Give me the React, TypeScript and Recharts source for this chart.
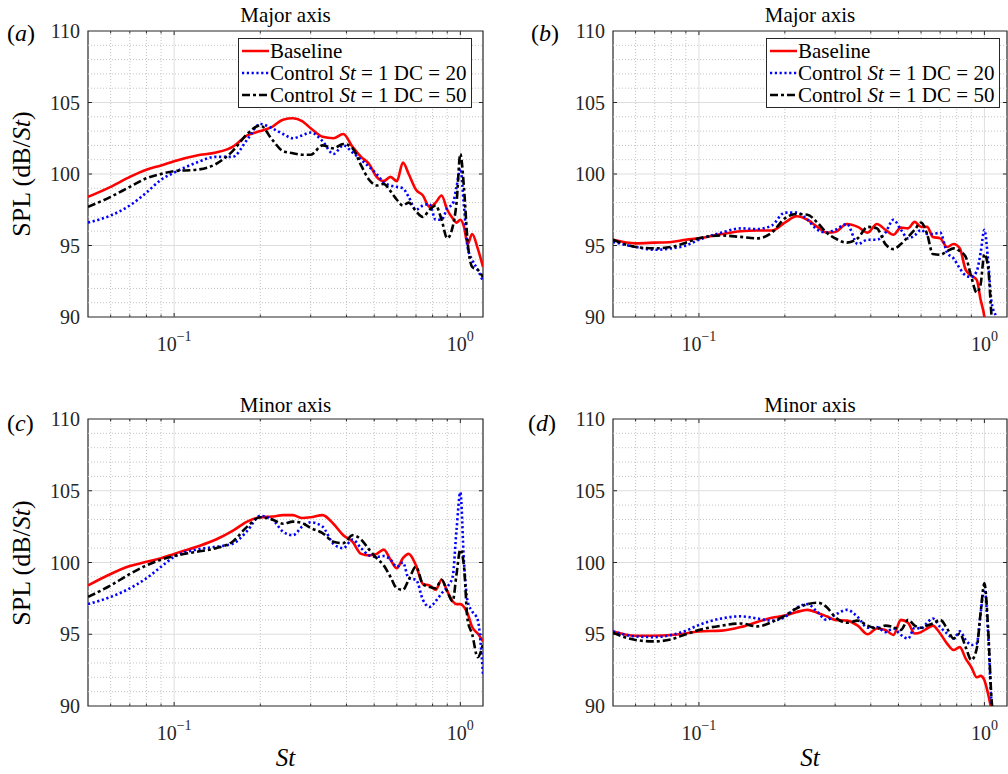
import React from 'react';
import { LineChart, Line, XAxis, YAxis, ReferenceLine, ReferenceArea, Legend } from 'recharts';

const SERIF = '"Liberation Serif", "Times New Roman", serif';

// Strouhal numbers shared by every curve
const ST = [0.05, 0.06, 0.07, 0.08, 0.09, 0.10, 0.12, 0.14, 0.16, 0.18, 0.20, 0.22, 0.24, 0.26, 0.28, 0.30, 0.33, 0.36, 0.39, 0.42, 0.45, 0.48, 0.51, 0.54, 0.57, 0.60, 0.63, 0.66, 0.70, 0.74, 0.78, 0.82, 0.86, 0.90, 0.94, 0.97, 1.00, 1.03, 1.06, 1.10, 1.15, 1.20];

// (a) major axis
const baseA = [98.4, 99.1, 99.8, 100.3, 100.6, 100.9, 101.3, 101.5, 101.9, 102.7, 103.0, 103.3, 103.8, 103.9, 103.7, 103.2, 102.6, 102.5, 102.8, 101.9, 101.2, 100.7, 99.8, 99.5, 99.8, 99.5, 100.8, 100.0, 98.9, 98.5, 97.7, 98.0, 98.5, 97.5, 96.9, 96.6, 96.8, 96.3, 95.1, 95.8, 94.8, 93.5];
const dc20A = [96.6, 97.1, 97.8, 98.7, 99.6, 100.1, 100.8, 101.2, 101.2, 102.4, 103.5, 103.2, 102.8, 102.5, 102.7, 102.9, 102.3, 101.4, 102.0, 101.5, 101.0, 100.5, 100.0, 99.4, 99.2, 99.1, 99.0, 98.4, 97.5, 97.8, 97.9, 96.8, 96.8, 97.6, 97.9, 99.1, 100.4, 97.7, 94.9, 94.0, 93.3, 92.5];
const dc50A = [97.7, 98.4, 99.1, 99.7, 100.0, 100.2, 100.3, 100.7, 101.6, 102.8, 103.4, 102.4, 101.6, 101.45, 101.35, 101.35, 102.0, 101.8, 102.1, 101.8, 100.6, 99.6, 99.2, 99.3, 98.8, 98.2, 97.8, 98.0, 97.4, 97.0, 97.5, 97.8, 96.8, 95.5, 96.3, 98.0, 101.4, 99.0, 95.3, 93.5, 93.3, 92.8];

// (b) major axis
const baseB = [95.4, 95.15, 95.2, 95.25, 95.4, 95.5, 95.8, 96.0, 96.05, 96.05, 96.6, 97.05, 96.8, 96.3, 95.9, 95.95, 96.5, 96.3, 95.9, 96.5, 96.1, 95.75, 96.25, 96.2, 96.65, 96.3, 96.3, 95.6, 95.5, 94.9, 95.1, 94.8, 93.3, 92.9, 92.6, 91.2, 90.0, 87.5, 85.5, 84.0, 83.0, 82.0];
const dc20B = [95.25, 94.9, 94.7, 94.8, 95.0, 95.4, 95.9, 96.2, 96.15, 96.4, 97.3, 97.3, 96.8, 96.1, 95.9, 96.1, 96.5, 95.1, 95.4, 95.4, 95.9, 96.8, 96.1, 95.5, 95.7, 96.1, 95.8, 95.8, 95.9, 94.5, 94.1, 93.4, 92.9, 92.8, 93.2, 94.5, 96.1, 94.0, 91.0, 90.0, 88.5, 87.5];
const dc50B = [95.4, 94.9, 94.8, 94.9, 95.2, 95.5, 95.7, 95.6, 95.5, 95.9, 96.9, 97.2, 97.15, 96.6, 95.9, 95.5, 95.2, 95.5, 96.3, 96.2, 95.1, 94.75, 95.1, 95.6, 96.1, 96.6, 95.8, 94.4, 94.35, 94.6, 94.8, 94.6, 94.2, 92.8, 91.7, 92.3, 94.4, 93.5, 90.0, 87.5, 86.5, 86.0];

// (c) minor axis
const baseC = [98.4, 99.2, 99.75, 100.05, 100.3, 100.6, 101.1, 101.6, 102.2, 102.85, 103.15, 103.2, 103.3, 103.3, 103.1, 103.15, 103.3, 102.7, 101.9, 101.45, 100.6, 100.5, 100.6, 100.9, 100.2, 99.6, 100.3, 100.6, 99.8, 98.5, 98.4, 98.1, 98.8, 98.0, 97.3, 97.1, 97.1, 96.9, 96.45, 95.5, 95.05, 94.5];
const dc20C = [97.1, 97.6, 98.2, 98.9, 99.7, 100.4, 100.9, 101.1, 101.3, 102.2, 103.25, 103.0, 102.15, 101.9, 102.5, 102.8, 102.5, 101.3, 101.0, 101.6, 101.0, 100.5, 100.4, 100.45, 100.2, 99.7, 100.0, 98.9, 98.8, 97.4, 96.9, 97.3, 97.85, 98.3, 99.0, 102.3, 104.9, 100.0, 97.3, 96.6, 96.0, 92.2];
const dc50C = [97.6, 98.4, 99.2, 99.8, 100.2, 100.45, 100.75, 101.0, 101.45, 102.5, 103.15, 103.0, 102.7, 102.85, 102.75, 102.4, 102.05, 101.45, 101.35, 101.9, 101.6, 100.9, 100.3, 99.8, 99.0, 98.2, 98.1, 98.8, 99.7, 98.5, 98.3, 98.2, 98.8, 98.0, 97.3, 99.2, 100.9, 99.7, 96.0, 95.0, 93.4, 94.3];

// (d) minor axis
const baseD = [95.2, 94.9, 94.9, 94.95, 95.05, 95.2, 95.25, 95.5, 95.85, 96.15, 96.3, 96.55, 96.7, 96.5, 96.25, 96.0, 95.95, 95.6, 95.0, 95.4, 95.3, 94.95, 96.0, 95.8, 95.05, 95.15, 95.4, 95.6, 95.05, 94.35, 93.9, 94.1, 93.3, 92.7, 92.0, 92.1, 91.8, 90.85, 89.7, 88.5, 87.5, 86.5];
const dc20D = [95.2, 94.85, 94.8, 94.95, 95.25, 95.65, 96.1, 96.25, 96.1, 95.95, 96.2, 96.85, 97.1, 96.55, 96.0, 96.35, 96.7, 96.2, 95.45, 95.5, 95.15, 95.4, 94.95, 94.7, 95.45, 95.4, 95.8, 96.1, 95.5, 95.05, 94.7, 95.2, 94.6, 94.25, 94.35, 96.45, 98.3, 95.05, 90.15, 88.3, 87.0, 86.0];
const dc50D = [95.1, 94.6, 94.5, 94.65, 95.0, 95.3, 95.6, 95.75, 95.55, 95.85, 96.3, 96.8, 97.1, 97.2, 96.9, 96.2, 95.8, 95.95, 95.6, 95.4, 95.6, 95.5, 95.3, 96.0, 95.6, 95.45, 95.6, 95.75, 96.0, 95.4, 94.7, 95.05, 94.1, 93.2, 94.0, 96.5, 98.55, 95.5, 90.4, 88.3, 87.0, 86.0];

const X_MAJOR = [0.1, 1];
const X_MINOR = [0.06, 0.07, 0.08, 0.09, 0.2, 0.3, 0.4, 0.5, 0.6, 0.7, 0.8, 0.9];
const Y_TICKS = [90, 95, 100, 105, 110];
const Y_MAJOR = [95, 100, 105];
const Y_MINOR = [91, 92, 93, 94, 96, 97, 98, 99, 101, 102, 103, 104, 106, 107, 108, 109];

const X_DOMAIN: [number, number] = [0.05, 1.2];
const Y_DOMAIN: [number, number] = [90, 110];

const SERIES = [
  { key: 'base', name: 'Baseline', color: '#ff0000', dash: undefined as string | undefined },
  { key: 'dc20', name: 'Control St = 1 DC = 20', color: '#0000ff', dash: '2.2 2.6' },
  { key: 'dc50', name: 'Control St = 1 DC = 50', color: '#000000', dash: '8 3 3 3' },
];

const build = (base: number[], dc20: number[], dc50: number[]) =>
  ST.map((st, i) => ({ st, base: base[i], dc20: dc20[i], dc50: dc50[i] }));

const AXIS = '#262626';

const LogTick = (props: any) => {
  const { x, y, payload } = props;
  const exp = Math.round(Math.log10(payload.value));
  return (
    <text x={x} y={y + 34} textAnchor="middle" fill={AXIS} fontFamily={SERIF} fontSize={20}>
      10<tspan dy={-10} fontSize={14}>{exp < 0 ? '\u2212' + Math.abs(exp) : String(exp)}</tspan>
    </text>
  );
};

const legendLabel = (key: string) => {
  if (key === 'base') return <span>Baseline</span>;
  return (
    <span>
      Control <i>St</i> = 1 DC = {key === 'dc20' ? '20' : '50'}
    </span>
  );
};

const LegendBox = () => (
  <div
    style={{
      border: `1px solid ${AXIS}`,
      background: '#fff',
      padding: '1px 5px 1px 2px',
      fontFamily: SERIF,
      fontSize: 21,
      lineHeight: '22px',
      color: '#000',
    }}
  >
    {SERIES.map((s) => (
      <div key={s.key} style={{ display: 'flex', alignItems: 'center', whiteSpace: 'nowrap' }}>
        <svg width={29} height={22} style={{ flex: 'none' }}>
          <line x1={1} x2={28} y1={11} y2={11} stroke={s.color} strokeWidth={2.5} strokeDasharray={s.dash} />
        </svg>
        {legendLabel(s.key)}
      </div>
    ))}
  </div>
);

type PanelProps = {
  rows: ReturnType<typeof build>;
  left: number;
  top: number;
  margin: { top: number; right: number; bottom: number; left: number };
  title: string;
  tag: string;
  tagX: number;
  tagY: number;
  titleY: number;
  showYLabel: boolean;
  showXLabel: boolean;
  legendAt?: { left: number; top: number };
};

const Panel = ({ rows, left, top, margin, title, tag, tagX, tagY, titleY, showYLabel, showXLabel, legendAt }: PanelProps) => {
  const W = 504;
  const H = 387;
  const plotL = margin.left + 60;
  const plotR = W - margin.right;
  const plotB = H - margin.bottom - 40;
  const plotT = margin.top;
  const cx = (plotL + plotR) / 2;
  const tickY = 0.28;
  const tickYMinor = 0.17;
  const tickX = 1.033;
  return (
    <div style={{ position: 'absolute', left, top, width: W, height: H }}>
      <LineChart width={W} height={H} data={rows} margin={margin}>
        <XAxis
          dataKey="st"
          type="number"
          scale="log"
          domain={X_DOMAIN}
          allowDataOverflow
          ticks={X_MAJOR}
          interval={0}
          tick={<LogTick />}
          tickLine={false}
          axisLine={false}
          tickSize={0}
          tickMargin={0}
          height={40}
        />
        <YAxis
          type="number"
          domain={Y_DOMAIN}
          allowDataOverflow
          ticks={Y_TICKS}
          interval={0}
          tickLine={false}
          axisLine={false}
          tickSize={0}
          tickMargin={8}
          width={60}
          tick={{ fill: AXIS, fontSize: 20, fontFamily: SERIF }}
        />
        {Y_MINOR.map((v) => (
          <ReferenceLine key={'ym' + v} y={v} stroke="#c4c4c4" strokeDasharray="1 2" strokeWidth={1} />
        ))}
        {X_MINOR.map((v) => (
          <ReferenceLine key={'xm' + v} x={v} stroke="#c4c4c4" strokeDasharray="1 2" strokeWidth={1} />
        ))}
        {Y_MAJOR.map((v) => (
          <ReferenceLine key={'yM' + v} y={v} stroke="#dedede" strokeWidth={1} />
        ))}
        {X_MAJOR.map((v) => (
          <ReferenceLine key={'xM' + v} x={v} stroke="#dedede" strokeWidth={1} />
        ))}
        {X_MINOR.map((v) => (
          <ReferenceLine key={'xtb' + v} segment={[{ x: v, y: 90 }, { x: v, y: 90 + tickYMinor }]} stroke={AXIS} />
        ))}
        {X_MINOR.map((v) => (
          <ReferenceLine key={'xtt' + v} segment={[{ x: v, y: 110 }, { x: v, y: 110 - tickYMinor }]} stroke={AXIS} />
        ))}
        {X_MAJOR.map((v) => (
          <ReferenceLine key={'xTb' + v} segment={[{ x: v, y: 90 }, { x: v, y: 90 + tickY }]} stroke={AXIS} />
        ))}
        {X_MAJOR.map((v) => (
          <ReferenceLine key={'xTt' + v} segment={[{ x: v, y: 110 }, { x: v, y: 110 - tickY }]} stroke={AXIS} />
        ))}
        {Y_MAJOR.map((v) => (
          <ReferenceLine key={'yTl' + v} segment={[{ x: 0.05, y: v }, { x: 0.05 * tickX, y: v }]} stroke={AXIS} />
        ))}
        {Y_MAJOR.map((v) => (
          <ReferenceLine key={'yTr' + v} segment={[{ x: 1.2 / tickX, y: v }, { x: 1.2, y: v }]} stroke={AXIS} />
        ))}
        {SERIES.map((s) => (
          <Line
            key={s.key}
            dataKey={s.key}
            name={s.name}
            type="monotone"
            stroke={s.color}
            strokeWidth={2.6}
            strokeDasharray={s.dash}
            dot={false}
            activeDot={false}
            isAnimationActive={false}
          />
        ))}
        <ReferenceArea x1={0.05} x2={1.2} y1={90} y2={110} fill="none" fillOpacity={0} stroke={AXIS} strokeWidth={1.2} />
        {legendAt && (
          <Legend
            layout="vertical"
            align="center"
            verticalAlign="middle"
            content={() => <LegendBox />}
            wrapperStyle={{ left: legendAt.left, top: legendAt.top, width: 'auto', height: 'auto', margin: 0 }}
          />
        )}
      </LineChart>
      <div
        style={{
          position: 'absolute',
          left: cx,
          top: titleY,
          transform: 'translate(-50%, -50%)',
          fontFamily: SERIF,
          fontSize: 21,
          color: '#000',
          whiteSpace: 'nowrap',
        }}
      >
        {title}
      </div>
      <div
        style={{
          position: 'absolute',
          left: tagX,
          top: tagY,
          transform: 'translate(0, -50%)',
          fontFamily: SERIF,
          fontSize: 24,
          color: '#000',
          whiteSpace: 'nowrap',
        }}
      >
        (<i>{tag}</i>)
      </div>
      {showYLabel && (
        <div
          style={{
            position: 'absolute',
            left: 22,
            top: (plotT + plotB) / 2,
            transform: 'translate(-50%, -50%) rotate(-90deg)',
            fontFamily: SERIF,
            fontSize: 26,
            color: '#000',
            whiteSpace: 'nowrap',
          }}
        >
          SPL (dB/<i>St</i>)
        </div>
      )}
      {showXLabel && (
        <div
          style={{
            position: 'absolute',
            left: cx,
            top: 371,
            transform: 'translate(-50%, -50%)',
            fontFamily: SERIF,
            fontSize: 25,
            color: '#000',
            whiteSpace: 'nowrap',
          }}
        >
          <i>St</i>
        </div>
      )}
    </div>
  );
};

export default function App() {
  return (
    <div style={{ position: 'absolute', left: 0, top: 0, width: 1008, height: 774, background: '#fff', overflow: 'hidden' }}>
      <Panel
        rows={build(baseA, dc20A, dc50A)}
        left={0}
        top={0}
        margin={{ top: 31, right: 21, bottom: 30, left: 28 }}
        title="Major axis"
        tag="a"
        tagX={7}
        tagY={33}
        titleY={15}
        showYLabel
        showXLabel={false}
        legendAt={{ left: 238, top: 38 }}
      />
      <Panel
        rows={build(baseB, dc20B, dc50B)}
        left={504}
        top={0}
        margin={{ top: 31, right: 1, bottom: 30, left: 49 }}
        title="Major axis"
        tag="b"
        tagX={27}
        tagY={33}
        titleY={15}
        showYLabel={false}
        showXLabel={false}
        legendAt={{ left: 262, top: 38 }}
      />
      <Panel
        rows={build(baseC, dc20C, dc50C)}
        left={0}
        top={387}
        margin={{ top: 32, right: 21, bottom: 28, left: 28 }}
        title="Minor axis"
        tag="c"
        tagX={7}
        tagY={36}
        titleY={18}
        showYLabel
        showXLabel
      />
      <Panel
        rows={build(baseD, dc20D, dc50D)}
        left={504}
        top={387}
        margin={{ top: 32, right: 1, bottom: 28, left: 49 }}
        title="Minor axis"
        tag="d"
        tagX={24}
        tagY={36}
        titleY={18}
        showYLabel={false}
        showXLabel
      />
    </div>
  );
}
